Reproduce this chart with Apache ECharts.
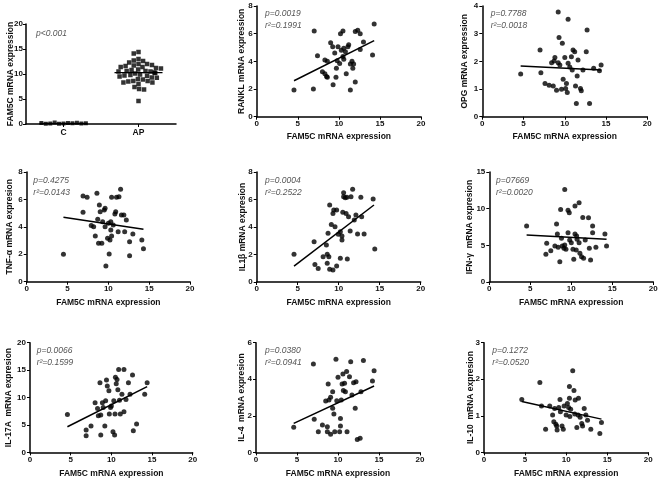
<!DOCTYPE html>
<html><head><meta charset="utf-8">
<script src="https://cdn.jsdelivr.net/npm/echarts@6/dist/echarts.min.js"></script>
<style>html,body{margin:0;padding:0;background:#fff}#c{width:661px;height:483px}</style>
</head><body><div id="c"></div>
<script>
// ---------- DATA ----------
const groupCats = ['C', 'AP'];
const fam5cC = [0.1, 0.2, 0.05, 0.3, 0.15, 0.1, 0.25, 0.05, 0.1, 0.2, 0.15];
const fam5cAP = [14.4, 14.1, 13.0, 12.7, 12.6, 12.3, 12.0, 12.0, 11.8, 11.7, 11.6, 11.4, 11.4, 11.2, 11.1, 10.9, 10.8, 10.6, 10.6, 10.5, 10.5, 10.3, 10.2, 10.1, 9.9, 9.8, 9.7, 9.65, 9.5, 9.3, 9.25, 9.0, 8.9, 8.6, 8.6, 8.5, 8.3, 8.3, 8.0, 7.4, 7.0, 6.9, 4.6];
const groupMeans = [0.12, 10.27];

const rankl = [[4.54,1.93],[6.9,2.0],[7.0,6.2],[7.4,4.4],[8.0,3.25],[8.3,4.1],[8.3,3.1],[8.5,2.9],[8.6,4.0],[8.6,2.85],[9.0,5.35],[9.25,5.05],[9.3,2.3],[9.5,4.6],[9.65,2.85],[9.7,3.5],[9.8,4.05],[9.9,5.05],[10.1,3.85],[10.2,6.0],[10.3,4.8],[10.5,6.2],[10.5,4.35],[10.6,4.95],[10.6,4.15],[10.8,4.7],[10.9,3.1],[11.1,5.05],[11.2,5.2],[11.4,3.8],[11.4,1.93],[11.6,4.0],[11.7,3.5],[11.8,3.8],[12.0,2.5],[12.0,6.15],[12.3,6.25],[12.6,6.0],[12.6,4.85],[13.0,5.4],[14.1,4.45],[14.3,6.7]];
const ranklFit = [[4.54,2.6],[14.3,5.5]];

const opg = [[4.65,1.54],[7.0,2.41],[7.1,1.59],[7.6,1.2],[8.1,1.14],[8.4,1.95],[8.7,2.01],[8.8,2.14],[8.6,1.11],[9.0,0.96],[9.2,3.78],[9.3,2.86],[9.2,1.95],[9.4,1.87],[9.6,0.99],[9.7,2.65],[9.8,1.35],[10.0,2.14],[10.1,1.02],[10.2,1.2],[10.4,3.52],[10.3,0.87],[10.4,1.93],[10.6,1.8],[10.8,2.17],[10.9,1.69],[11.0,2.41],[11.2,2.35],[11.3,1.11],[11.4,0.48],[11.5,1.47],[11.6,2.05],[11.9,1.02],[12.0,0.94],[12.2,1.69],[12.6,2.35],[12.7,3.13],[13.0,0.48],[13.5,1.75],[14.2,1.66],[14.4,1.87]];
const opgFit = [[4.65,1.83],[14.4,1.69]];

const tnf = [[4.5,2.0],[6.9,6.25],[7.4,6.15],[6.9,5.06],[7.9,4.09],[8.2,4.01],[8.4,3.33],[8.6,6.45],[8.7,4.55],[8.8,2.8],[8.9,5.6],[9.0,5.1],[9.2,2.8],[9.3,4.38],[9.5,5.23],[9.6,5.35],[9.6,4.01],[9.7,1.14],[9.9,3.16],[10.0,4.26],[10.1,2.02],[10.2,3.04],[10.3,3.77],[10.4,6.15],[10.3,4.38],[10.4,3.33],[10.6,4.14],[10.8,4.94],[10.9,5.1],[11.0,6.15],[11.2,3.65],[11.3,6.2],[11.5,6.74],[11.6,4.87],[11.9,4.87],[12.0,3.65],[12.2,4.5],[12.6,2.92],[12.6,1.9],[13.0,3.48],[14.1,3.04],[14.3,2.41]];
const tnfFit = [[4.5,4.7],[14.3,3.82]];

const il1b = [[4.55,2.01],[7.0,2.93],[7.1,1.28],[7.5,0.99],[8.1,1.84],[8.5,2.69],[8.6,1.36],[8.6,2.01],[8.7,3.54],[8.8,1.84],[8.9,5.6],[8.9,0.92],[9.1,4.19],[9.3,0.87],[9.3,4.99],[9.4,5.24],[9.55,4.02],[9.75,5.24],[9.75,1.16],[9.95,3.47],[10.2,3.66],[10.2,1.72],[10.4,3.05],[10.4,3.35],[10.5,5.07],[10.6,6.5],[10.6,6.2],[10.8,6.13],[10.9,4.99],[11.0,6.16],[11.05,1.67],[11.2,4.75],[11.4,3.71],[11.5,6.2],[11.7,6.74],[11.9,4.51],[12.1,4.87],[12.3,3.49],[12.7,6.16],[12.8,4.75],[13.1,3.49],[14.2,6.04],[14.4,2.4]];
const il1bFit = [[4.55,1.16],[14.3,5.6]];

const ifng = [[4.55,7.64],[7.0,5.27],[6.9,3.77],[7.5,4.27],[8.0,4.91],[8.2,7.9],[8.3,6.55],[8.4,4.73],[8.6,2.77],[8.7,9.9],[8.8,5.95],[8.9,4.91],[9.1,4.6],[9.2,12.6],[9.2,5.05],[9.35,4.45],[9.6,9.8],[9.75,9.45],[9.6,6.73],[9.8,5.73],[10.0,5.36],[10.2,4.45],[10.3,3.09],[10.45,6.55],[10.45,10.36],[10.6,4.36],[10.65,6.27],[10.7,5.82],[10.95,10.8],[10.95,5.36],[11.05,3.91],[11.25,3.45],[11.4,8.8],[11.5,3.23],[11.7,5.73],[12.1,8.77],[12.2,4.6],[12.35,3.0],[12.6,7.64],[12.6,6.73],[13.0,4.73],[14.1,6.55],[14.3,4.91]];
const ifngFit = [[4.55,6.41],[14.3,5.82]];

const il17a = [[4.6,6.93],[6.9,4.07],[6.9,3.04],[7.5,4.8],[8.0,9.06],[8.3,8.02],[8.4,6.69],[8.6,12.7],[8.7,6.81],[8.7,3.16],[8.9,9.06],[9.0,8.2],[9.2,4.8],[9.3,9.4],[9.4,13.2],[9.5,12.1],[9.7,11.25],[9.75,7.0],[9.9,8.2],[10.0,8.45],[10.2,3.77],[10.4,3.16],[10.3,9.4],[10.45,7.0],[10.5,13.7],[10.6,12.5],[10.7,13.3],[10.8,11.4],[10.9,15.1],[11.0,9.5],[11.1,7.0],[11.3,10.6],[11.55,15.1],[11.55,7.4],[11.8,9.66],[12.1,12.7],[12.3,10.6],[12.6,14.1],[12.7,3.95],[13.1,5.17],[14.1,10.6],[14.4,12.7]];
const il17aFit = [[4.6,4.68],[14.4,11.98]];

const il4 = [[4.6,1.37],[7.0,4.84],[7.1,1.81],[7.6,1.13],[8.1,1.5],[8.5,2.81],[8.7,1.13],[8.7,1.4],[8.8,3.74],[8.9,2.87],[9.1,3.01],[9.1,0.99],[9.35,2.41],[9.35,3.32],[9.5,2.1],[9.6,1.13],[9.75,5.09],[9.85,2.83],[10.0,4.11],[10.2,1.13],[10.3,1.44],[10.3,1.86],[10.4,2.87],[10.5,3.74],[10.6,4.29],[10.65,3.38],[10.8,3.78],[10.9,3.32],[11.05,4.42],[11.1,1.13],[11.4,4.14],[11.55,4.96],[11.7,3.14],[11.9,3.81],[12.1,2.41],[12.2,3.87],[12.35,0.71],[12.7,0.77],[12.8,3.32],[13.1,5.02],[14.2,3.9],[14.4,4.47]];
const il4Fit = [[4.6,1.59],[14.4,3.63]];

const il10 = [[4.6,1.45],[6.8,1.91],[7.0,1.27],[7.5,0.63],[8.0,1.27],[8.35,1.02],[8.5,0.84],[8.6,1.2],[8.75,0.77],[8.85,0.72],[8.9,0.61],[9.1,1.23],[9.25,1.45],[9.3,1.11],[9.5,0.72],[9.65,0.63],[9.75,1.27],[10.0,1.02],[10.15,1.34],[10.3,1.23],[10.4,1.8],[10.4,1.48],[10.45,0.98],[10.55,1.18],[10.8,2.23],[10.95,1.69],[11.05,1.05],[11.1,1.43],[11.3,0.68],[11.45,1.02],[11.5,1.48],[11.7,0.96],[11.9,0.79],[12.0,0.72],[12.2,1.2],[12.4,1.02],[12.6,0.88],[13.0,0.63],[14.1,0.52],[14.3,0.82]];
const il10Fit = [[4.6,1.39],[14.3,0.91]];

const xTicks = {min: 0, max: 20, interval: 5};
const yScales = [[8,2],[4,1],[8,2],[8,2],[15,5],[20,5],[6,2],[3,1]];
const yNames = ['RANKL mRNA expression','OPG mRNA expression','TNF-\u03b1 mRNA expresion','IL1\u03b2 mRNA expresion','IFN-\u03b3  mRNA expresion','IL-17A  mRNA expresion','IL-4  mRNA expresion','IL-10  mRNA expresion'];
const pTexts = ['p=0.0019','p=0.7788','p=0.4275','p=0.0004','p=07669','p=0.0066','p=0.0380','p=0.1272'];
const rTexts = ['r\u00b2=0.1991','r\u00b2=0.0018','r\u00b2=0.0143','r\u00b2=0.2522','r\u00b2=0.0020','r\u00b2=0.1599','r\u00b2=0.0941','r\u00b2=0.0520'];
const scatterSets = [rankl, opg, tnf, il1b, ifng, il17a, il4, il10];
const fitSets = [ranklFit, opgFit, tnfFit, il1bFit, ifngFit, il17aFit, il4Fit, il10Fit];

// ---------- LAYOUT ----------
const FONT = '"Liberation Sans", Arial, Helvetica, sans-serif';
const grids = [
  {left: 26, top: 24, width: 150, height: 100},
  {left: 256.7, top: 6, width: 164.3, height: 110.7},
  {left: 482.3, top: 6, width: 165, height: 110.7},
  {left: 26.7, top: 172, width: 163.3, height: 109.7},
  {left: 256.7, top: 172, width: 164, height: 110},
  {left: 489.3, top: 172, width: 164, height: 110},
  {left: 30, top: 342.7, width: 162.7, height: 109.7},
  {left: 256, top: 342.7, width: 164, height: 109.7},
  {left: 484, top: 342.7, width: 164.3, height: 109.7}
];
const yNameGaps = [11, 11, 13, 13, 10, 15.5, 16.5, 9.5, 9];
const xNameGaps = [0, 15, 15, 16, 16, 16, 17, 17, 17];
const annot = [[36,34],[265,14],[490.7,14],[33.3,181],[265,181],[496,180.7],[36.7,351],[265,351],[492.3,351]];

const axisLine = {show: true, onZero: false, lineStyle: {color: '#000', width: 1.5}};
const axisTick = {show: true, length: 3, lineStyle: {color: '#000', width: 1}};
const labelStyle = {color: '#111', fontSize: 8, fontWeight: 'bold', fontFamily: FONT};
const nameStyle = {color: '#111', fontSize: 8.5, fontWeight: 'bold', fontFamily: FONT};

const option = {
  animation: false,
  backgroundColor: '#fff',
  grid: grids.map(g => Object.assign({containLabel: false, outerBoundsMode: 'none'}, g)),
  xAxis: [], yAxis: [], series: [], graphic: []
};

// Panel 1: group comparison
option.xAxis.push({
  gridIndex: 0, type: 'category', data: groupCats,
  jitter: 46, jitterOverlap: false, jitterMargin: 0.5,
  axisLine, axisTick: Object.assign({alignWithLabel: true}, axisTick),
  axisLabel: Object.assign({margin: 4}, labelStyle, {fontSize: 8.5}), splitLine: {show: false}
});
option.yAxis.push({
  gridIndex: 0, type: 'value', min: 0, max: 20, interval: 5,
  name: 'FAM5C mRNA expression', nameLocation: 'middle', nameGap: yNameGaps[0], nameMoveOverlap: false, nameTextStyle: nameStyle,
  axisLine, axisTick, axisLabel: Object.assign({margin: 3}, labelStyle), splitLine: {show: false}
});
option.series.push({
  type: 'scatter', xAxisIndex: 0, yAxisIndex: 0, symbol: 'rect', symbolSize: 4,
  itemStyle: {color: '#000'}, data: fam5cC.map(v => [0, v])
});
option.series.push({
  type: 'scatter', xAxisIndex: 0, yAxisIndex: 0, symbol: 'rect', symbolSize: 4.5,
  itemStyle: {color: '#000'}, data: fam5cAP.map(v => [1, v])
});
option.series.push({
  type: 'custom', xAxisIndex: 0, yAxisIndex: 0, data: groupMeans.map((m, i) => [i, m]),
  renderItem: (params, api) => {
    const p = api.coord([api.value(0), api.value(1)]);
    const hw = 24;
    return {type: 'line', shape: {x1: p[0] - hw, y1: p[1], x2: p[0] + hw, y2: p[1]}, style: {stroke: '#000', lineWidth: 1.2}};
  }
});
option.graphic.push({type: 'text', left: annot[0][0], top: annot[0][1] - 5,
  style: {text: 'p<0.001', font: 'italic 8.5px ' + FONT, fill: '#555'}});

// Panels 2-9: scatter with regression line
for (let i = 0; i < 8; i++) {
  const gi = i + 1;
  option.xAxis.push(Object.assign({
    gridIndex: gi, type: 'value',
    name: 'FAM5C mRNA expression', nameLocation: 'middle', nameGap: xNameGaps[gi], nameTextStyle: nameStyle,
    axisLine, axisTick, axisLabel: Object.assign({margin: 3}, labelStyle), splitLine: {show: false}
  }, xTicks));
  option.yAxis.push({
    gridIndex: gi, type: 'value', min: 0, max: yScales[i][0], interval: yScales[i][1],
    name: yNames[i], nameLocation: 'middle', nameGap: yNameGaps[gi], nameMoveOverlap: false, nameTextStyle: nameStyle,
    axisLine, axisTick, axisLabel: Object.assign({margin: 4}, labelStyle), splitLine: {show: false}
  });
  option.series.push({
    type: 'scatter', xAxisIndex: gi, yAxisIndex: gi, symbol: 'circle', symbolSize: 5,
    itemStyle: {color: '#000'}, data: scatterSets[i]
  });
  option.series.push({
    type: 'line', xAxisIndex: gi, yAxisIndex: gi, symbol: 'none', silent: true,
    lineStyle: {color: '#000', width: 1.5}, data: fitSets[i]
  });
  option.graphic.push({type: 'text', left: annot[gi][0], top: annot[gi][1] - 5,
    style: {text: pTexts[i], font: 'italic 8.5px ' + FONT, fill: '#555'}});
  option.graphic.push({type: 'text', left: annot[gi][0], top: annot[gi][1] + 7,
    style: {text: rTexts[i], font: 'italic 8.5px ' + FONT, fill: '#555'}});
}

const chart = echarts.init(document.getElementById('c'), null, {renderer: 'canvas'});
chart.setOption(option);
</script>
</body></html>
